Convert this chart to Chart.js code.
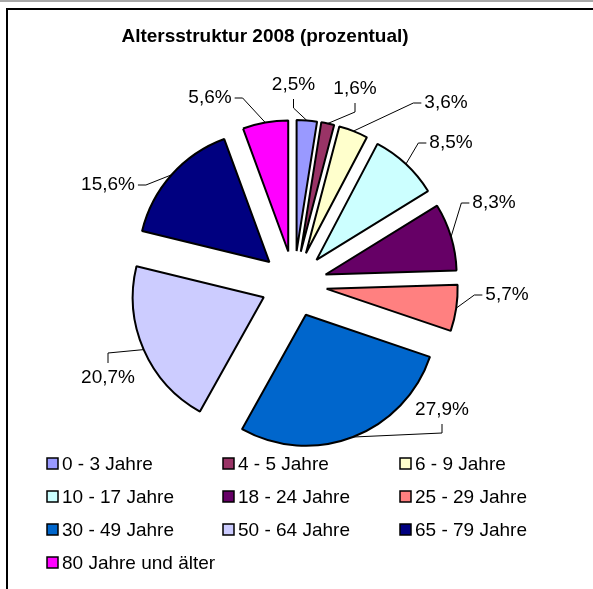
<!DOCTYPE html>
<html>
<head>
<meta charset="utf-8">
<script src="https://cdn.jsdelivr.net/npm/chart.js@4/dist/chart.umd.min.js"></script>
<style>
html,body{margin:0;padding:0;background:#fff;}
#wrap{width:593px;height:589px;position:relative;}
canvas{display:block;}
</style>
</head>
<body>
<div id="wrap"><canvas id="c" width="593" height="589"></canvas></div>
<script>
// ---- data ----
const chartTitle = 'Altersstruktur 2008 (prozentual)';
const categories = ['0 - 3 Jahre', '4 - 5 Jahre', '6 - 9 Jahre', '10 - 17 Jahre', '18 - 24 Jahre',
  '25 - 29 Jahre', '30 - 49 Jahre', '50 - 64 Jahre', '65 - 79 Jahre', '80 Jahre und älter'];
const values = [2.5, 1.6, 3.6, 8.5, 8.3, 5.7, 27.9, 20.7, 15.6, 5.6];
const valueLabels = values.map(v => v.toFixed(1).replace('.', ',') + '%');
const colors = ['#9999FF', '#993366', '#FFFFCC', '#CCFFFF', '#660066',
  '#FF8080', '#0066CC', '#CCCCFF', '#000080', '#FF00FF'];

// ---- layout (label placement relative to pie centre, leader side) ----
const labelLayout = [
  {dx: -0.5, dy: -199, side: 'b'},
  {dx: 61, dy: -195, side: 'b'},
  {dx: 152, dy: -181, side: 'l'},
  {dx: 157, dy: -141, side: 'l'},
  {dx: 200, dy: -81, side: 'l'},
  {dx: 213, dy: 11, side: 'l'},
  {dx: 148, dy: 126, side: 'b'},
  {dx: -186, dy: 94, side: 't'},
  {dx: -186, dy: -99, side: 'r'},
  {dx: -84, dy: -186, side: 'r'}
];
const FONT = '"Liberation Sans", Arial, sans-serif';
const EXPLODE = 33;

const excelPie = {
  id: 'excelPie',
  beforeDraw(chart) {
    const ctx = chart.ctx;
    ctx.save();
    ctx.fillStyle = '#ffffff';
    ctx.fillRect(0, 0, chart.width, chart.height);
    ctx.fillStyle = '#a8a8a8';
    ctx.fillRect(0, 0, chart.width, 2);
    ctx.fillStyle = '#000000';
    ctx.fillRect(6, 8, chart.width - 6, 2);
    ctx.fillRect(6, 8, 2, chart.height - 8);
    ctx.restore();
  },
  beforeDatasetDraw(chart, args) {
    const ctx = chart.ctx;
    const meta = args.meta;
    meta.data.forEach(el => {
      const mid = (el.startAngle + el.endAngle) / 2;
      ctx.save();
      ctx.translate(Math.cos(mid) * EXPLODE, Math.sin(mid) * EXPLODE);
      el.draw(ctx);
      ctx.restore();
    });
    return false;
  },
  afterDraw(chart) {
    const ctx = chart.ctx;
    ctx.save();
    // title
    ctx.fillStyle = '#000';
    ctx.font = 'bold 19px ' + FONT;
    ctx.textAlign = 'center';
    ctx.textBaseline = 'middle';
    ctx.fillText(chartTitle, 265, 37);

    // data labels with leader lines
    const meta = chart.getDatasetMeta(0);
    ctx.font = '19px ' + FONT;
    meta.data.forEach((el, i) => {
      const mid = (el.startAngle + el.endAngle) / 2;
      const r = el.outerRadius + EXPLODE;
      const sx = el.x + Math.cos(mid) * r;
      const sy = el.y + Math.sin(mid) * r;
      const L = labelLayout[i];
      const tx = el.x + L.dx, ty = el.y + L.dy;
      const text = valueLabels[i];
      const w = ctx.measureText(text).width;
      let ex, ey, bx, by;
      if (L.side === 'b') { ex = tx; ey = ty + 14; bx = tx; by = ty + 23; }
      else if (L.side === 't') { ex = tx; ey = ty - 15; bx = tx; by = ty - 25; }
      else if (L.side === 'l') { ex = tx - w / 2 - 3; ey = ty; bx = tx - w / 2 - 11; by = ty; }
      else { ex = tx + w / 2 + 3; ey = ty; bx = tx + w / 2 + 11; by = ty; }
      ctx.strokeStyle = '#000';
      ctx.lineWidth = 1;
      ctx.beginPath();
      ctx.moveTo(sx, sy);
      ctx.lineTo(bx, by);
      ctx.lineTo(ex, ey);
      ctx.stroke();
      ctx.fillStyle = '#000';
      ctx.textAlign = 'center';
      ctx.textBaseline = 'middle';
      ctx.fillText(text, tx, ty);
    });

    // legend (3 columns)
    const colX = [47, 223, 400];
    const rowY = [464, 497, 530, 563];
    ctx.textAlign = 'left';
    ctx.textBaseline = 'middle';
    ctx.font = '19px ' + FONT;
    chart.data.labels.forEach((lab, i) => {
      const c = i % 3, rr = Math.floor(i / 3);
      const x = colX[c], y = rowY[rr];
      ctx.fillStyle = chart.data.datasets[0].backgroundColor[i];
      ctx.fillRect(x, y - 6, 11, 11);
      ctx.strokeStyle = '#000';
      ctx.lineWidth = 1.5;
      ctx.strokeRect(x, y - 6, 11, 11);
      ctx.fillStyle = '#000';
      ctx.fillText(lab, x + 15, y + 1);
    });
    ctx.restore();
  }
};

new Chart(document.getElementById('c'), {
  type: 'pie',
  data: {
    labels: categories,
    datasets: [{
      data: values,
      backgroundColor: colors,
      borderColor: '#000000',
      borderWidth: 2,
      hoverOffset: 0
    }]
  },
  options: {
    responsive: false,
    devicePixelRatio: 1,
    animation: false,
    events: [],
    radius: 131,
    layout: {padding: {left: 100, right: 105, top: 100, bottom: 121}},
    plugins: {
      legend: {display: false},
      title: {display: false},
      tooltip: {enabled: false}
    }
  },
  plugins: [excelPie]
});
</script>
</body>
</html>
